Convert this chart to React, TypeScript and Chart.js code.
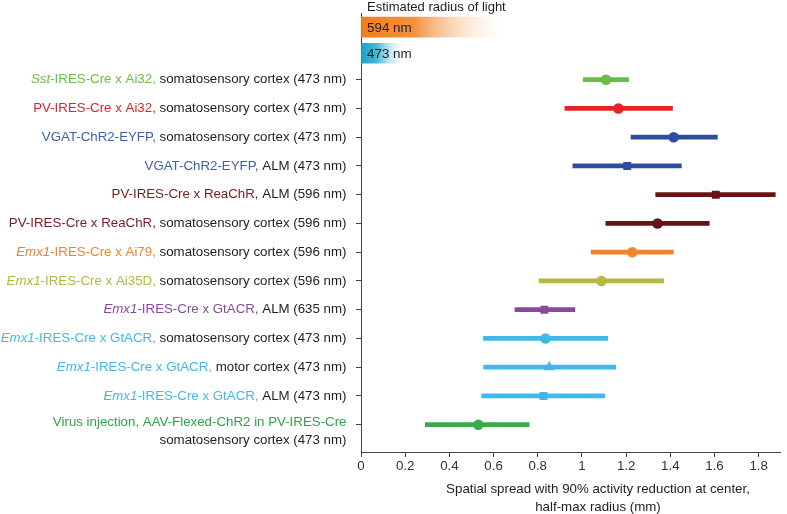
import React, { useEffect, useRef } from "react";
import { Chart, registerables } from "chart.js";

Chart.register(...registerables);

// ---- data ----
const rowPositions = [1, 2, 3, 4, 5, 6, 7, 8, 9, 10, 11, 12, 13];

type Part = { t: string; c?: string; i?: boolean };

const conditionLabels: Part[][][] = [
  [[{ t: "Sst", c: "#6CBD45", i: true }, { t: "-IRES-Cre x Ai32, ", c: "#6CBD45" }, { t: "somatosensory cortex (473 nm)" }]],
  [[{ t: "PV-IRES-Cre x Ai32, ", c: "#E3232A" }, { t: "somatosensory cortex (473 nm)" }]],
  [[{ t: "VGAT-ChR2-EYFP, ", c: "#4060A8" }, { t: "somatosensory cortex (473 nm)" }]],
  [[{ t: "VGAT-ChR2-EYFP, ", c: "#4060A8" }, { t: "ALM (473 nm)" }]],
  [[{ t: "PV-IRES-Cre x ReaChR, ", c: "#761A1E" }, { t: "ALM (596 nm)" }]],
  [[{ t: "PV-IRES-Cre x ReaChR, ", c: "#761A1E" }, { t: "somatosensory cortex (596 nm)" }]],
  [[{ t: "Emx1", c: "#F0842C", i: true }, { t: "-IRES-Cre x Ai79, ", c: "#F0842C" }, { t: "somatosensory cortex (596 nm)" }]],
  [[{ t: "Emx1", c: "#B3B640", i: true }, { t: "-IRES-Cre x Ai35D, ", c: "#B3B640" }, { t: "somatosensory cortex (596 nm)" }]],
  [[{ t: "Emx1", c: "#8A489D", i: true }, { t: "-IRES-Cre x GtACR, ", c: "#8A489D" }, { t: "ALM (635 nm)" }]],
  [[{ t: "Emx1", c: "#41B8E7", i: true }, { t: "-IRES-Cre x GtACR, ", c: "#41B8E7" }, { t: "somatosensory cortex (473 nm)" }]],
  [[{ t: "Emx1", c: "#41B8E7", i: true }, { t: "-IRES-Cre x GtACR, ", c: "#41B8E7" }, { t: "motor cortex (473 nm)" }]],
  [[{ t: "Emx1", c: "#41B8E7", i: true }, { t: "-IRES-Cre x GtACR, ", c: "#41B8E7" }, { t: "ALM (473 nm)" }]],
  [
    [{ t: "Virus injection, AAV-Flexed-ChR2 in PV-IRES-Cre", c: "#2FA24A" }],
    [{ t: "somatosensory cortex (473 nm)" }],
  ],
];

const lowValues = [1.006, 0.923, 1.222, 0.959, 1.334, 1.108, 1.042, 0.806, 0.697, 0.554, 0.555, 0.546, 0.291];
const highValues = [1.211, 1.41, 1.613, 1.45, 1.875, 1.576, 1.414, 1.37, 0.968, 1.117, 1.153, 1.103, 0.761];
const centerValues = [1.109, 1.165, 1.415, 1.205, 1.606, 1.342, 1.228, 1.088, 0.83, 0.835, 0.852, 0.826, 0.531];
const markerShapes = ["circle", "circle", "circle", "rect", "rect", "circle", "circle", "circle", "rect", "circle", "triangle", "rect", "circle"];
const seriesColors = ["#6CBD45", "#E3232A", "#2F4C9E", "#2F4C9E", "#6A1316", "#6A1316", "#F0842C", "#B6B842", "#8A489D", "#41B8E7", "#41B8E7", "#41B8E7", "#3BAA4A"];

const lightLabels = ["594 nm", "473 nm"];
const lightRadius = [0.685, 0.21];
const lightRows = [-0.83, 0.08];
const lightColors = [["#F07E1E", "#F3923E"], ["#1BA0C8", "#48B8D6"]];

const xTickValues = [0, 0.2, 0.4, 0.6, 0.8, 1, 1.2, 1.4, 1.6, 1.8];
const xTitle = ["Spatial spread with 90% activity reduction at center,", "half-max radius (mm)"];
const headerTitle = "Estimated radius of light";

const FONT = '"Liberation Sans", Arial, Helvetica, sans-serif';
const TEXT = "#1E1E1E";
const LABEL_SIZE = 13.3;

const textPlugin = {
  id: "textPlugin",
  afterDraw(chart: any) {
    const ctx = chart.ctx as CanvasRenderingContext2D;
    const ys = chart.scales.y;
    const xs = chart.scales.x;
    ctx.save();
    ctx.textBaseline = "middle";
    // row labels
    const rightEdge = xs.left - 14.5;
    conditionLabels.forEach((lines, r) => {
      const yc = ys.getPixelForValue(rowPositions[r]);
      lines.forEach((parts, li) => {
        const y = lines.length > 1 ? yc - 2 + li * 17.5 : yc;
        let total = 0;
        const widths = parts.map((p) => {
          ctx.font = (p.i ? "italic " : "") + LABEL_SIZE + "px " + FONT;
          const w = ctx.measureText(p.t).width;
          total += w;
          return w;
        });
        let x = rightEdge - total;
        parts.forEach((p, k) => {
          ctx.font = (p.i ? "italic " : "") + LABEL_SIZE + "px " + FONT;
          ctx.fillStyle = p.c || TEXT;
          ctx.textAlign = "left";
          ctx.fillText(p.t, x, y);
          x += widths[k];
        });
      });
    });
    // header
    ctx.font = "13px " + FONT;
    ctx.fillStyle = TEXT;
    ctx.textAlign = "left";
    ctx.fillText(headerTitle, xs.left + 6, 7);
    ctx.font = "13.4px " + FONT;
    lightLabels.forEach((l, i) => {
      ctx.fillText(l, xs.left + 6, ys.getPixelForValue(lightRows[i]) + 1);
    });
    // x title
    ctx.font = "13.3px " + FONT;
    ctx.textAlign = "center";
    const cx = 598;
    ctx.fillText(xTitle[0], cx, 489);
    ctx.fillText(xTitle[1], cx, 507);
    ctx.restore();
  },
};

export default function App() {
  const ref = useRef<HTMLCanvasElement | null>(null);

  useEffect(() => {
    if (!ref.current) return;
    const chart = new Chart(ref.current, {
      type: "scatter",
      data: {
        datasets: [
          {
            type: "scatter",
            order: 0,
            data: centerValues.map((v, i) => ({ x: v, y: rowPositions[i] })),
            pointStyle: markerShapes as any,
            pointRadius: markerShapes.map((s) => (s === "rect" ? 5.6 : s === "triangle" ? 6.2 : 5.3)),
            pointBackgroundColor: seriesColors,
            pointBorderColor: seriesColors,
            pointBorderWidth: 0,
          } as any,
          {
            type: "bar",
            order: 1,
            indexAxis: "y",
            grouped: false,
            barThickness: 4,
            data: lowValues.map((lo, i) => ({ y: rowPositions[i], x: [lo, highValues[i]] })),
            backgroundColor: seriesColors,
            borderWidth: 0,
          } as any,
          {
            type: "bar",
            order: 2,
            indexAxis: "y",
            grouped: false,
            barThickness: 20,
            data: lightRadius.map((r, i) => ({ y: lightRows[i], x: [0, r] })),
            backgroundColor: (c: any) => {
              const ch = c.chart;
              const i = c.dataIndex ?? 0;
              if (!ch.chartArea || !ch.scales.x) return lightColors[i][0];
              const x0 = ch.scales.x.getPixelForValue(0);
              const x1 = ch.scales.x.getPixelForValue(lightRadius[i]);
              const g = ch.ctx.createLinearGradient(x0, 0, x1, 0);
              g.addColorStop(0, lightColors[i][0]);
              g.addColorStop(0.35, lightColors[i][1]);
              g.addColorStop(1, "rgba(255,255,255,0)");
              return g;
            },
            borderWidth: 0,
          } as any,
        ],
      },
      options: {
        animation: false,
        responsive: false,
        maintainAspectRatio: false,
        layout: { padding: { top: 13, right: 4, left: 0, bottom: 0 } },
        plugins: { legend: { display: false }, tooltip: { enabled: false } },
        scales: {
          x: {
            type: "linear",
            position: "bottom",
            offset: false,
            min: 0,
            max: 1.9,
            afterBuildTicks: (s: any) => {
              s.ticks = xTickValues.map((v) => ({ value: v }));
            },
            afterFit: (s: any) => {
              s.height = 62;
            },
            ticks: {
              callback: (v: any) => String(Math.round(Number(v) * 10) / 10),
              color: "#333",
              font: { family: FONT, size: 13.3 },
              padding: 1,
              maxRotation: 0,
              autoSkip: false,
            },
            grid: { offset: false, drawOnChartArea: false, drawTicks: true, tickLength: 5, color: "#444" },
            border: { display: true, color: "#444", width: 1 },
          },
          y: {
            type: "linear",
            position: "left",
            offset: false,
            reverse: true,
            min: -1.32,
            max: 13.95,
            afterBuildTicks: (s: any) => {
              s.ticks = rowPositions.map((v) => ({ value: v }));
            },
            afterFit: (s: any) => {
              s.width = 361;
            },
            ticks: { display: false },
            grid: { offset: false, drawOnChartArea: false, drawTicks: true, tickLength: 5, color: "#444" },
            border: { display: true, color: "#444", width: 1 },
          },
        },
      } as any,
      plugins: [textPlugin],
    });
    return () => chart.destroy();
  }, []);

  return (
    <div style={{ position: "absolute", left: 0, top: 0, width: 787, height: 514, background: "#fff" }}>
      <canvas ref={ref} width={787} height={514} style={{ display: "block" }} />
    </div>
  );
}
